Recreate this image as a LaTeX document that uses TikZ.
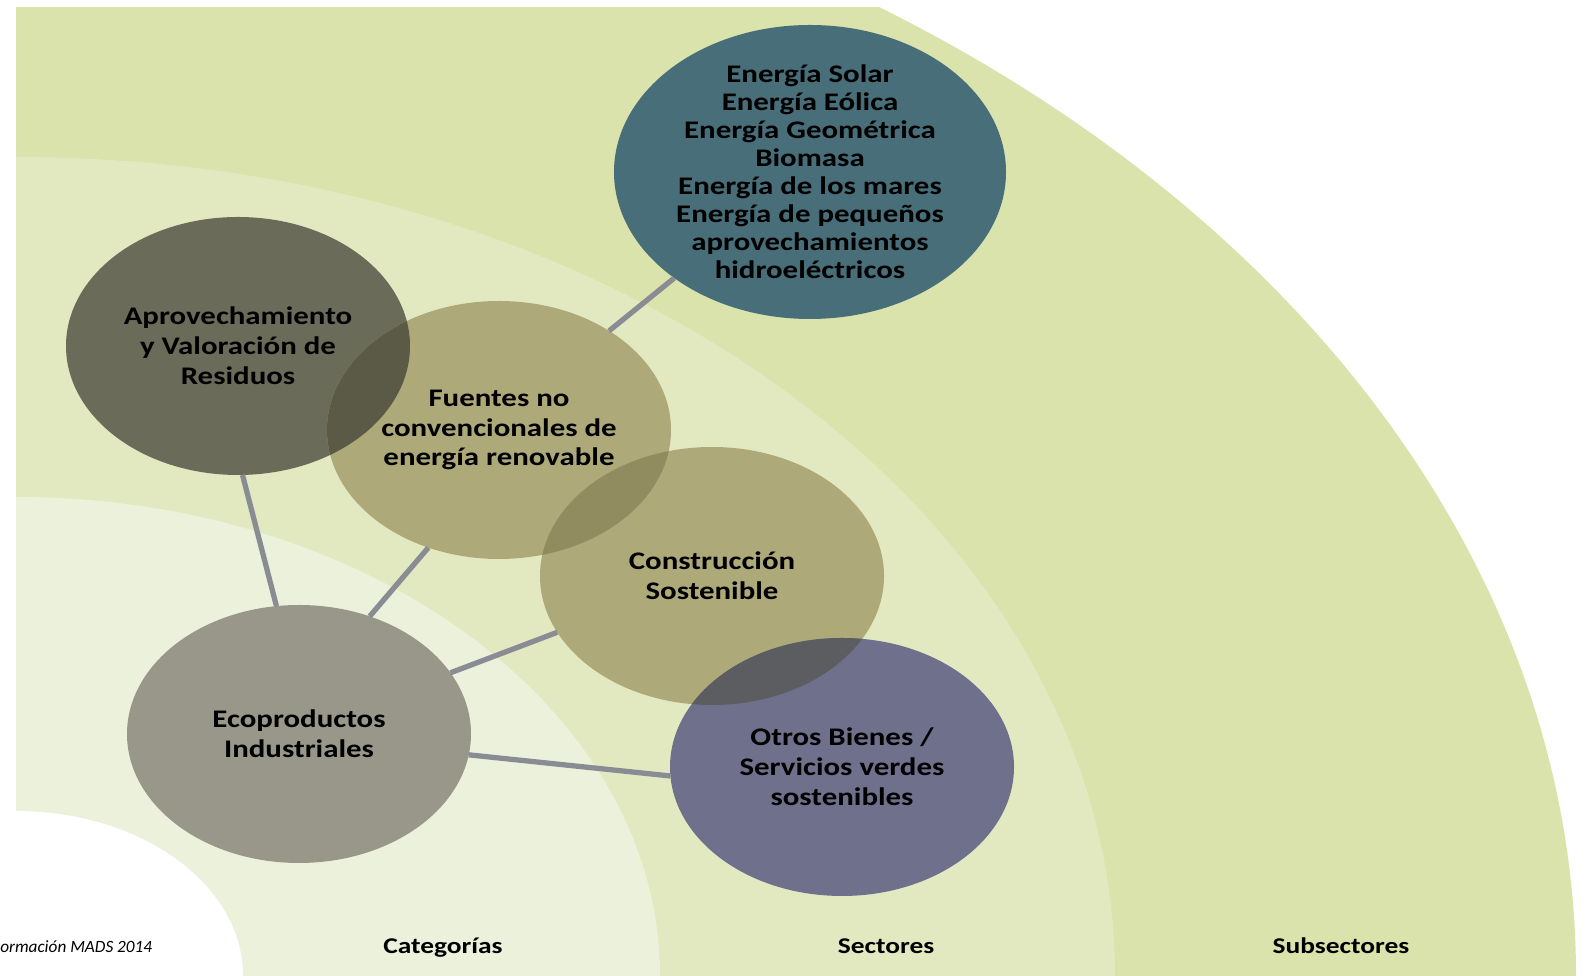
\documentclass[tikz,border=0pt]{standalone}
\usepackage{fontspec}
\setmainfont{Carlito}
\newfontfamily\bubblefont[FakeStretch=1.22]{Carlito}
\usepackage{tikz}
\usetikzlibrary{shapes.geometric}
\usetikzlibrary{backgrounds}

\definecolor{bandouter}{RGB}{217,227,171}
\definecolor{bandmid}{RGB}{226,233,192}
\definecolor{bandinner}{RGB}{236,241,220}
\definecolor{solarcol}{RGB}{71,110,121}
\definecolor{residuocol}{RGB}{107,107,90}
\definecolor{fuentecol}{RGB}{174,169,121}
\definecolor{ecocol}{RGB}{152,151,137}
\definecolor{otroscol}{RGB}{111,113,140}
\definecolor{darkolive}{RGB}{90,90,70}
\definecolor{midolive}{RGB}{145,140,95}
\definecolor{slatedark}{RGB}{92,93,96}
\definecolor{linkcol}{RGB}{138,140,147}

\tikzset{
  bubble/.style={ellipse, minimum width=6.88cm, minimum height=5.16cm, inner sep=-6pt, outer sep=0pt,
    align=center, font=\bubblefont\bfseries\fontsize{14.4}{17}\selectfont},
  bigbubble/.style={bubble, minimum width=7.84cm, minimum height=5.88cm,
    font=\bubblefont\bfseries\fontsize{14.4}{15.9}\selectfont},
  link/.style={draw=linkcol, line width=3pt},
  ringlabel/.style={anchor=base, font=\bubblefont\bfseries\fontsize{12.8}{14}\selectfont}
}

\begin{document}
\begin{tikzpicture}
   \useasboundingbox (0,0) rectangle (31.8,19.52);

   % circulos
   \node[bigbubble] (solar) at (16.2,16.08) {Energía Solar\\Energía Eólica\\Energía Geométrica\\Biomasa\\Energía de los mares\\Energía de pequeños\\aprovechamientos\\hidroeléctricos};
   \node[bubble] (residuos) at (4.76,12.6) {Aprovechamiento\\y Valoración de\\Residuos};
   \node[bubble] (fuentes) at (9.98,10.92) {Fuentes no\\convencionales de\\energía renovable};
   \node[bubble] (constr) at (14.24,8.0) {Construcción\\Sostenible};
   \node[bubble] (eco) at (5.98,4.84) {Ecoproductos\\Industriales};
   \node[bubble] (otros) at (16.84,4.18) {Otros Bienes /\\Servicios verdes\\sostenibles};

   % enlaces
   \draw[link] (fuentes.42.8) -- (solar.218);
   \draw[link] (residuos.-88) -- (eco.100);
   \draw[link] (fuentes.239) -- (eco.59);
   \draw[link] (constr.200.6) -- (eco.22.8);
   \draw[link] (eco.-7) -- (otros.183.6);

   % rotulos
   \node[ringlabel] (categorias) at (8.86,0.44) {Categorías};
   \node[ringlabel] (sectores) at (17.72,0.44) {Sectores};
   \node[ringlabel] (subsectores) at (26.82,0.44) {Subsectores};
   \node[anchor=base west, inner sep=0pt, font=\itshape\fontsize{9.8}{11}\selectfont] (nota) at (0,0.46) {ormación MADS 2014};

   \begin{pgfonlayer}{background}
     \begin{scope}
       \clip (0.32,0) rectangle (31.8,19.36);
       \fill[bandouter] (0.32,0) ellipse (31.2 and 23.26);
       \fill[bandmid] (0.32,0) ellipse (21.98 and 16.38);
       \fill[bandinner] (0.32,0) ellipse (12.88 and 9.58);
     \end{scope}
     \fill[white] (0.32,0) ellipse (4.54 and 3.3);

     \fill[solarcol] (solar) ellipse (3.92 and 2.94);
     \foreach \n/\c in {residuos/residuocol, fuentes/fuentecol, constr/fuentecol, eco/ecocol, otros/otroscol}
       \fill[\c] (\n) ellipse (3.44 and 2.58);

     % cruces
     \begin{scope}
       \clip (residuos) ellipse (3.44 and 2.58);
       \fill[darkolive] (fuentes) ellipse (3.44 and 2.58);
     \end{scope}
     \begin{scope}
       \clip (fuentes) ellipse (3.44 and 2.58);
       \fill[midolive] (constr) ellipse (3.44 and 2.58);
     \end{scope}
     \begin{scope}
       \clip (constr) ellipse (3.44 and 2.58);
       \fill[slatedark] (otros) ellipse (3.44 and 2.58);
     \end{scope}
   \end{pgfonlayer}
\end{tikzpicture}
\end{document}
